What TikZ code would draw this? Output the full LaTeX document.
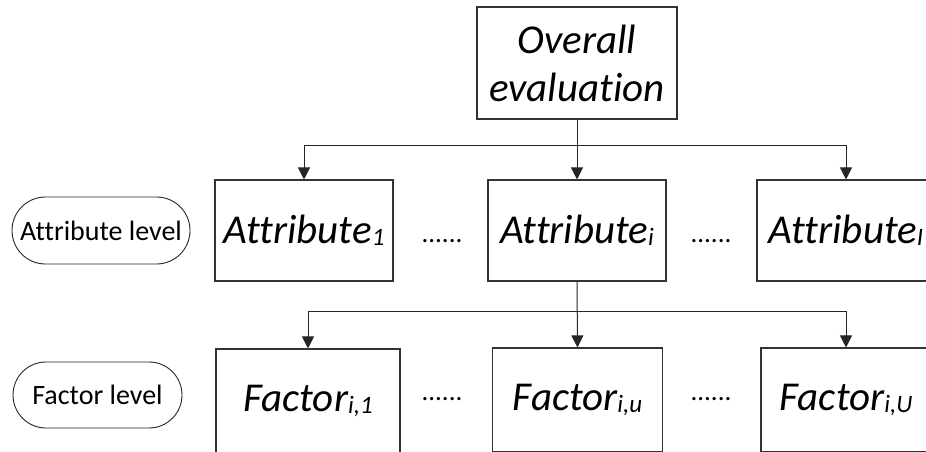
\documentclass[tikz,border=0pt]{standalone}
\usepackage{fontspec}
\setmainfont{Carlito}[Ligatures={NoCommon,NoContextual}]
\usetikzlibrary{arrows.meta,shapes.misc}
% smaller index set after a main label
\newcommand\idx[1]{\raisebox{-2pt}{\fontsize{25}{25}\selectfont #1}}
\begin{document}
\begin{tikzpicture}[x=1pt,y=-1pt,
  box/.style={draw=black!80,line width=1.1pt,inner sep=0pt,
    font=\fontsize{41}{48}\selectfont\itshape},
  level/.style={draw=black!85,line width=0.9pt,rounded rectangle,inner sep=0pt,
    font=\fontsize{28}{30}\selectfont},
  link/.style={line width=1pt,draw=black!85},
  flow/.style={link,-{Triangle[width=12pt,length=12pt]}},
  gap/.style={inner sep=0pt,anchor=base,font=\fontsize{27}{30}\selectfont}]
\useasboundingbox (0,0) rectangle (926,452);
\clip (0,0) rectangle (926,452);

% top of the hierarchy
\node[box,minimum width=200pt,minimum height=112pt,align=center] (top) at (577,63)
  {Overall\\evaluation};

% attribute row
\node[level,minimum width=178pt,minimum height=67pt] (attrlevel) at (101,230.5) {Attribute level};
\node[box,minimum width=178pt,minimum height=101pt] (a1) at (304,230.5) {Attribute\idx{1}};
\node[box,minimum width=178pt,minimum height=101pt] (ai) at (577,230.5) {Attribute\idx{i}};
\node[box,minimum width=178pt,minimum height=101pt] (aI) at (846,230.5) {Attribute\idx{I}};
\node[gap] (d1) at (442,242) {......};
\node[gap] (d2) at (711,242) {......};

% factor row
\node[level,minimum width=169pt,minimum height=66pt] (faclevel) at (97.5,395) {Factor level};
\node[box,minimum width=184pt,minimum height=104pt] (f1) at (308,401) {Factor\idx{i,1}};
\node[box,minimum width=170pt,minimum height=104pt] (fu) at (577.5,400) {Factor\idx{i,u}};
\node[box,minimum width=170pt,minimum height=104pt] (fU) at (846,400) {Factor\idx{i,U}};
\node[gap] (d3) at (442,400) {......};
\node[gap] (d4) at (711,400) {......};

% branches from the overall evaluation
\coordinate (ja) at (577,145);
\draw[link] (a1.north |- ja) -- (aI.north |- ja);
\draw[flow] (top.south) -- (ai.north);
\draw[flow] (a1.north |- ja) -- (a1.north);
\draw[flow] (aI.north |- ja) -- (aI.north);

% branches from attribute i
\coordinate (jf) at (577,311);
\draw[link] (f1.north |- jf) -- (fU.north |- jf);
\draw[flow] (ai.south) -- (fu.north);
\draw[flow] (f1.north |- jf) -- (f1.north);
\draw[flow] (fU.north |- jf) -- (fU.north);
\end{tikzpicture}
\end{document}
